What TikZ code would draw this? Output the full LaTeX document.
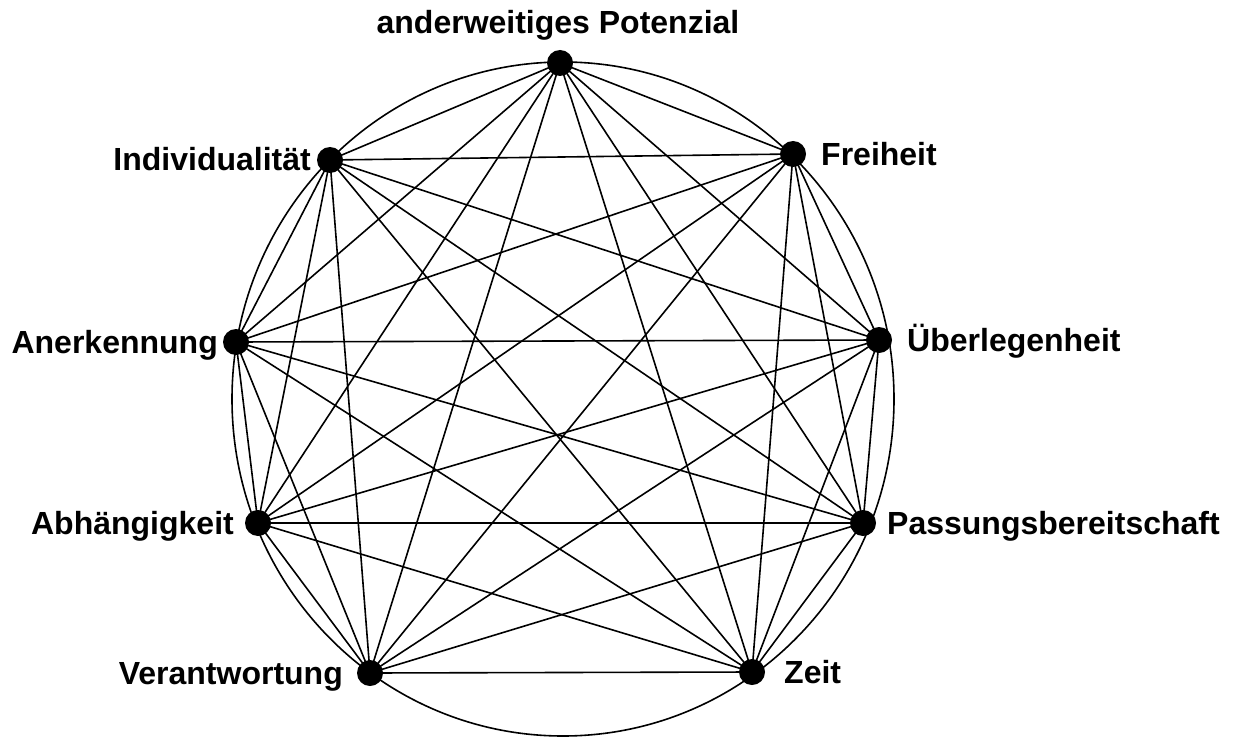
\documentclass[tikz,border=0pt]{standalone}
\usepackage{fontspec}
\setmainfont{Liberation Sans}
\usetikzlibrary{backgrounds}
\begin{document}
\begin{tikzpicture}[x=1pt,y=-1pt,
  dot/.style={circle,fill=black,draw=none,minimum size=26pt,inner sep=0pt},
  lbl/.style={inner sep=0pt,font=\bfseries\fontsize{32}{38}\selectfont},
  edge/.style={draw=black,line width=1.6pt},
  ring/.style={draw=black,line width=1.6pt}]
\useasboundingbox (0,0) rectangle (1241,738);
% nodes
\node[dot] (p1) at (560,63) {};
\node[dot] (p2) at (793,154) {};
\node[dot] (p3) at (879,340) {};
\node[dot] (p4) at (863,523) {};
\node[dot] (p5) at (752,672) {};
\node[dot] (p6) at (370,673) {};
\node[dot] (p7) at (258,523) {};
\node[dot] (p8) at (236,342) {};
\node[dot] (p9) at (330,160) {};
% labels
\node[lbl,anchor=base] (t1) at (558,34) {anderweitiges Potenzial};
\node[lbl,anchor=base west] (t2) at (821,166) {Freiheit};
\node[lbl,anchor=base west] (t3) at (907,351) {Überlegenheit};
\node[lbl,anchor=base west] (t4) at (887,534) {Passungsbereitschaft};
\node[lbl,anchor=base west] (t5) at (784,683) {Zeit};
\node[lbl,anchor=base east] (t6) at (343,684) {Verantwortung};
\node[lbl,anchor=base east] (t7) at (234,534) {Abhängigkeit};
\node[lbl,anchor=base east] (t8) at (218,353) {Anerkennung};
\node[lbl,anchor=base east] (t9) at (311,171) {Individualität};
% connectors and ring
\begin{scope}[on background layer]
\draw[ring] (563,399) ellipse [x radius=331, y radius=337];
\foreach \i in {1,...,8}{
  \pgfmathtruncatemacro\k{\i+1}
  \foreach \j in {\k,...,9}{
    \draw[edge] (p\i.center) -- (p\j.center);
  }
}
\end{scope}
\end{tikzpicture}
\end{document}
